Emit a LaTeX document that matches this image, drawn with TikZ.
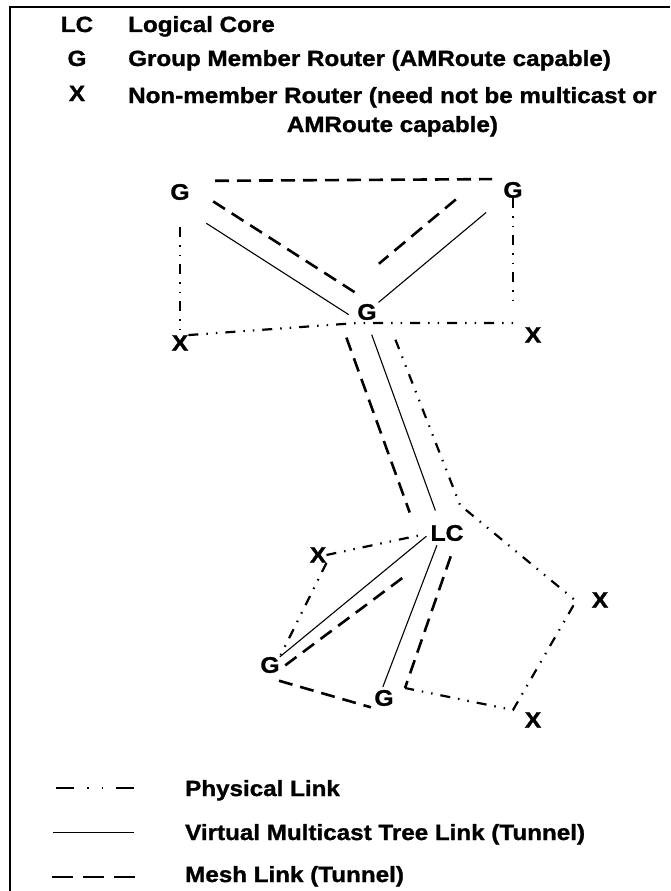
\documentclass[tikz,border=0pt]{standalone}
\usepackage{fontspec}
\setmainfont[FakeStretch=1.1, BoldFeatures={FakeBold=1.2}]{Liberation Sans}

\tikzset{
  router/.style={font=\bfseries\fontsize{22.5}{26}\selectfont, inner sep=0pt},
  keytext/.style={font=\bfseries\fontsize{22}{26}\selectfont, inner sep=0pt, anchor=base west},
  physical/.style={line width=2.2pt, dash pattern=on 10pt off 8pt on 1.5pt off 8pt on 1.5pt off 8pt},
  tree/.style={line width=1.1pt},
  mesh/.style={line width=2.6pt, dash pattern=on 14pt off 8pt},
  offset/.style={transform canvas={shift={#1}}},
}

\begin{document}
\begin{tikzpicture}[x=1pt, y=-1pt]
  \useasboundingbox (0,0) rectangle (670,891);

  % Frame
  \draw[line width=2pt] (10,891) -- (10,7) -- (670,7);

  % Key
  \node[keytext, anchor=base] (lckey) at (77,32) {LC};
  \node[keytext] (lctext) at (128,32) {Logical Core};
  \node[keytext, anchor=base] (gkey) at (77,66) {G};
  \node[keytext] (gtext) at (128,66) {Group Member Router (AMRoute capable)};
  \node[keytext, anchor=base] (xkey) at (77,101) {X};
  \node[keytext] (xtext) at (128,103) {Non-member Router (need not be multicast or};
  \node[keytext, anchor=base] (xtext2) at ([yshift=-29pt]xtext.base) {AMRoute capable)};

  % Upper group
  \node[router] (gtl) at (180,192) {G};
  \node[router] (gtr) at (513,190) {G};
  \node[router] (gm) at (367,312) {G};
  \node[router] (xl) at (180,343) {X};
  \node[router] (xr) at (533,335) {X};

  % Lower group
  \node[router] (lc) at (447,533) {LC};
  \node[router] (xul) at (318,555) {X};
  \node[router] (xlr) at (600,600) {X};
  \node[router] (gl) at (270,665) {G};
  \node[router] (glo) at (384,698) {G};
  \node[router] (xbr) at (533,720) {X};

  % Bends of the physical links
  \coordinate (xrc) at (513,323);
  \coordinate (lcc) at (460,505);
  \coordinate (xlrc) at (576,601);
  \coordinate (xbrc) at (513,710);
  \coordinate (gloc) at (405,688);

  % Physical links
  \draw[physical, shorten <=27pt] (gtl) -- (xl);
  \draw[physical, shorten >=20pt] (gtr) -- (xrc);
  \draw[physical] (xl.north east) -- (gm.south west |- xrc) -- (xrc);
  \draw[physical, shorten <=21pt] ([xshift=11pt]gm.south east) -- (lcc) -- (xlrc) -- (xbrc) -- (gloc);
  \draw[physical, shorten >=5pt] (xul.east) -- (lc.west);
  \draw[physical] (xul.south east) -- (gl.north east);

  % Tree links
  \draw[tree, offset={(-6.5,10.2)}, shorten <=39pt, shorten >=14pt] (gtl.center) -- (gm.center);
  \draw[tree, shorten <=35pt, shorten >=15pt] (gtr.center) -- (gm.center);
  \draw[tree, offset={(-3.1,1.1)}, shorten <=23pt, shorten >=25pt] (gm.center) -- (lc.center);
  \draw[tree, shorten >=5pt] (gl.north east) -- (lc.west);
  \draw[tree, offset={(-4.7,-1.8)}, shorten <=15pt, shorten >=10pt] (lc.center) -- (glo.center);

  % Mesh links
  \draw[mesh, offset={(0,-11)}, shorten <=35pt, shorten >=21pt] (gtl.center) -- (gtr.center);
  \draw[mesh, offset={(5.4,-8.4)}, shorten <=33pt, shorten >=18pt] (gtl.center) -- (gm.center);
  \draw[mesh, offset={(-18.8,-22.6)}, shorten <=50pt, shorten >=40pt] (gtr.center) -- (gm.center);
  \draw[mesh, offset={(-26.4,9.6)}, shorten <=17pt, shorten >=32pt] (gm.center) -- (lc.center);
  \draw[mesh, offset={(5.6,7.5)}, shorten <=12pt, shorten >=62pt] (gl.center) -- (lc.center);
  \draw[mesh, offset={(-3.5,12.1)}, shorten <=13pt, shorten >=10pt] (gl.center) -- (glo.center);
  \draw[mesh, shorten <=16pt] ([xshift=9pt]lc.south) -- (gloc);

  % Line styles
  \draw[physical, dash pattern=on 18pt off 13pt on 1.5pt off 13pt on 1.5pt off 13pt] (56,788) -- (136,788);
  \node[keytext] (phystext) at (185,796) {Physical Link};
  \draw[tree, line width=1pt] (53,832) -- (134,832);
  \node[keytext] (treetext) at (185,840) {Virtual Multicast Tree Link (Tunnel)};
  \draw[mesh, dash pattern=on 21pt off 10pt] (52,877) -- (136,877);
  \node[keytext] (meshtext) at (185,882) {Mesh Link (Tunnel)};
\end{tikzpicture}
\end{document}
